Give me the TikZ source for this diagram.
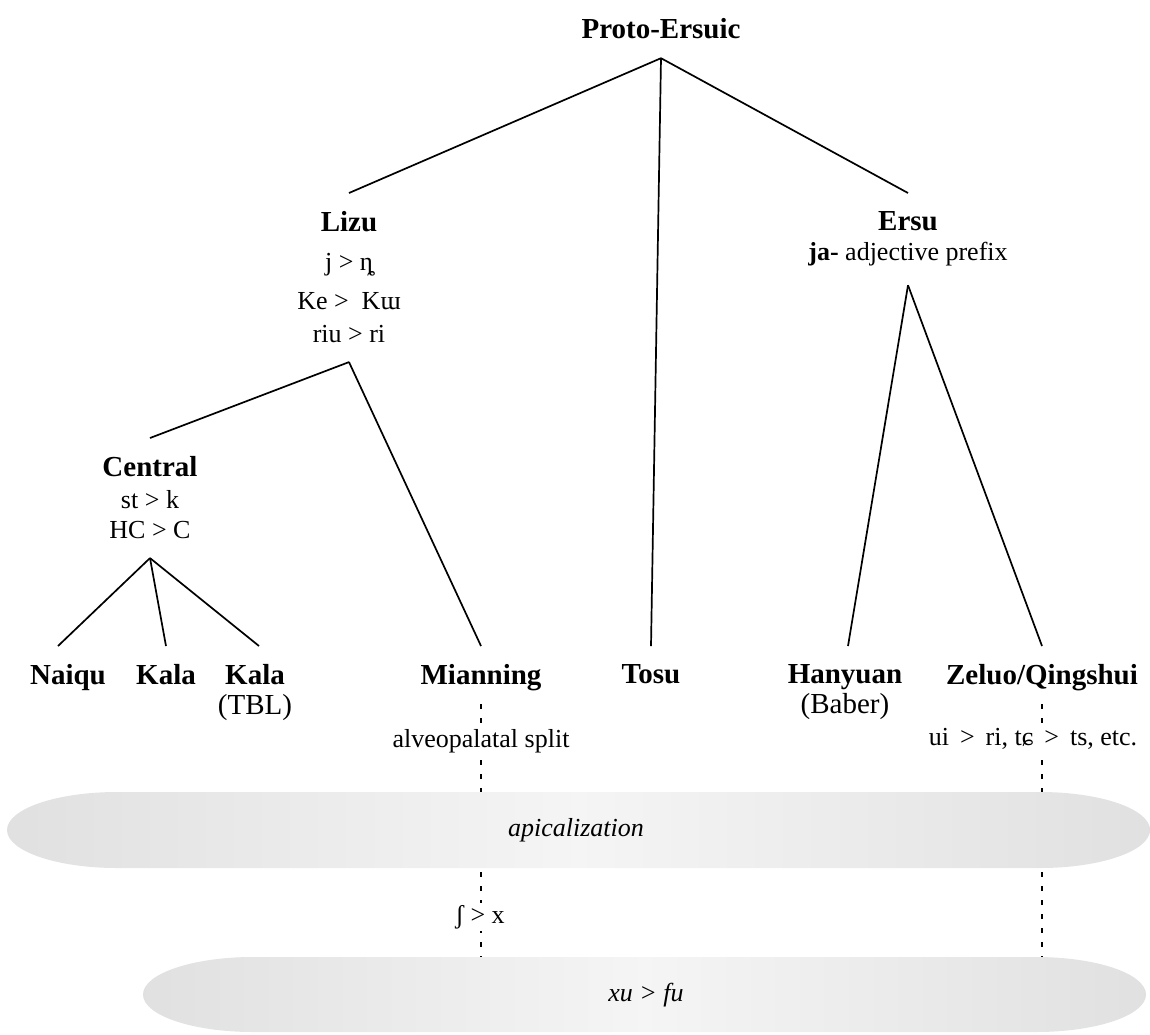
\documentclass[tikz,border=0pt]{standalone}
\usepackage{fontspec}
\setmainfont{Liberation Serif}
\usetikzlibrary{shadings}

\newcommand\nm[1]{{\fontsize{14.5}{15}\selectfont\bfseries #1}}
\newcommand\lgtext[1]{{\fontsize{14.5}{15}\selectfont #1}}
\newcommand\gt{\hspace{5.5pt}>\hspace{5.5pt}}

\begin{document}
\begin{tikzpicture}[x=0.5pt, y=-0.5pt, line width=0.85pt, font=\fontsize{13}{15}\selectfont,
	lang/.style = {align=center, inner xsep=2pt, inner ysep=9pt, anchor=north},
	note/.style = {fill=white, inner xsep=1pt, inner ysep=1pt, anchor=base},
	band/.style = {shading=axis, shading angle=90, left color=gray!24, right color=gray!24, middle color=gray!8},
	soundline/.style = {line width=0.9pt, dash pattern=on 2.5pt off 4.5pt}]
	\useasboundingbox (0,0) rectangle (1150,1034);

	% family tree
	\node[lang] (proto) at (661,0) {\nm{Proto-Ersuic}};
	\node[lang] (lizu) at (349,193) {\nm{Lizu}\\[4.5pt] j > ȵ\\[4.5pt] Ke >~~Kɯ\\[1.5pt] riu > ri};
	\node[lang] (ersu) at (908,193) {\nm{Ersu}\\ \textbf{ja-} adjective prefix};
	\node[lang] (central) at (150,438) {\nm{Central}\\[1pt] st > k\\ HC > C};
	\node[lang] (naiqu) at (68,646) {\nm{Naiqu}};
	\node[lang] (kala) at (166,646) {\nm{Kala}};
	\node[lang] (kalatbl) at (255,646) {\nm{Kala}\\ \lgtext{(TBL)}};
	\node[lang] (mianning) at (481,646) {\nm{Mianning}};
	\node[lang] (tosu) at (651,646) {\nm{Tosu}};
	\node[lang] (hanyuan) at (845,646) {\nm{Hanyuan}\\ \lgtext{(Baber)}};
	\node[lang] (zeluo) at (1042,646) {\nm{Zeluo/Qingshui}};

	\draw (proto.south) -- (lizu.north);
	\draw (proto.south) -- (tosu.north);
	\draw (proto.south) -- (ersu.north);
	\draw (lizu.south) -- (central.north);
	\draw (lizu.south) -- (mianning.north);
	\draw (central.south) -- ([xshift=-5pt]naiqu.north);
	\draw (central.south) -- (kala.north);
	\draw (central.south) -- ([xshift=2pt]kalatbl.north);
	\draw (ersu.south) -- ([xshift=1.5pt]hanyuan.north);
	\draw (ersu.south) -- (zeluo.north);

	% later sound changes
	\coordinate (mend) at (481,957);
	\coordinate (zend) at (1042,957);
	\draw[soundline] ([yshift=3pt]mianning.south) -- (mend);
	\draw[soundline] ([yshift=3pt]zeluo.south) -- (zend);
	\node[note] (split) at (481,747) {alveopalatal split};
	\node[note] (esh) at (480,923) {ʃ > x};
	\node[note] (zchange) at (1033,745) {ui\gt ri, tɕ\gt ts, etc.};

	\path[band] (117,792) -- (1040,792) arc[start angle=-90, end angle=90, x radius=110, y radius=38]
		-- (117,868) arc[start angle=90, end angle=270, x radius=110, y radius=38] -- cycle;
	\path[band] (253,957) -- (1036,957) arc[start angle=-90, end angle=90, x radius=110, y radius=37.5]
		-- (253,1032) arc[start angle=90, end angle=270, x radius=110, y radius=37.5] -- cycle;
	\node (apical) at (576,830) {\itshape apicalization};
	\node (xufu) at (646,995) {\itshape xu > fu};
\end{tikzpicture}
\end{document}
